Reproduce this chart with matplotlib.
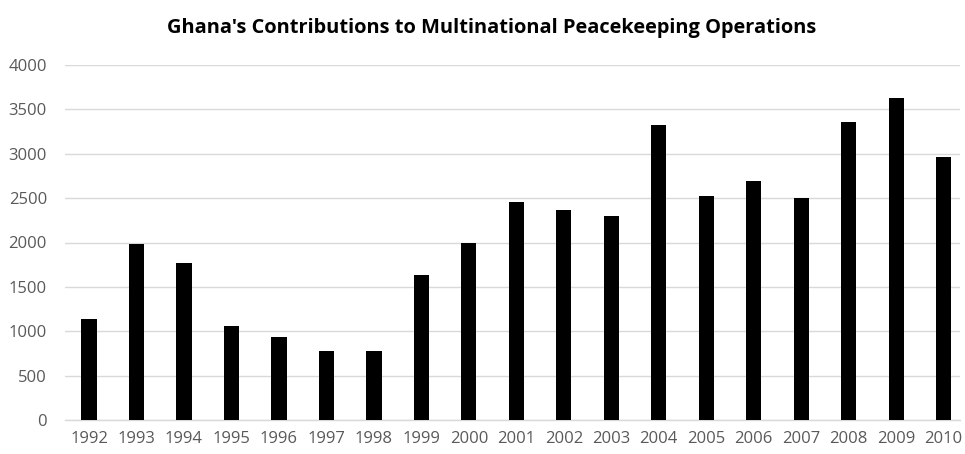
import matplotlib
matplotlib.use("Agg")
import matplotlib.pyplot as plt

years = [str(y) for y in range(1992, 2011)]
troops = [1135, 1980, 1773, 1063, 935, 774, 774, 1631, 2000, 2457,
          2363, 2302, 3321, 2528, 2690, 2505, 3355, 3626, 2961]
yticks = [0, 500, 1000, 1500, 2000, 2500, 3000, 3500, 4000]
title = "Ghana's Contributions to Multinational Peacekeeping Operations"

plt.rcParams['font.family'] = ['Open Sans', 'DejaVu Sans']

W, H = 965, 454
fig = plt.figure(figsize=(W/100, H/100), dpi=100)
ax = fig.add_axes([65/W, (H-420)/H, (960-65)/W, (420-65)/H])

x = list(range(len(years)))
ax.bar(x, troops, width=0.32, color='black', zorder=3)
ax.set_xlim(-0.507, 18.345)
ax.set_ylim(0, 4000)
ax.set_yticks(yticks)
ax.set_yticklabels([str(v) for v in yticks])
ax.set_xticks(x)
ax.set_xticklabels(years)
ax.grid(axis='y', color='#d9d9d9', linewidth=1.0, zorder=0)
for s in ['top', 'right', 'left']:
    ax.spines[s].set_visible(False)
ax.spines['bottom'].set_color('#d9d9d9')
ax.spines['bottom'].set_linewidth(1.0)
ax.tick_params(axis='both', length=0, colors='#595959', labelsize=12)
ax.tick_params(axis='y', pad=13)
ax.tick_params(axis='x', pad=8)
fig.text(492/W, (H-28)/H, title, ha='center', va='center', fontsize=14.4,
         fontweight='bold', color='black')
fig.savefig('out.png', dpi=100)
